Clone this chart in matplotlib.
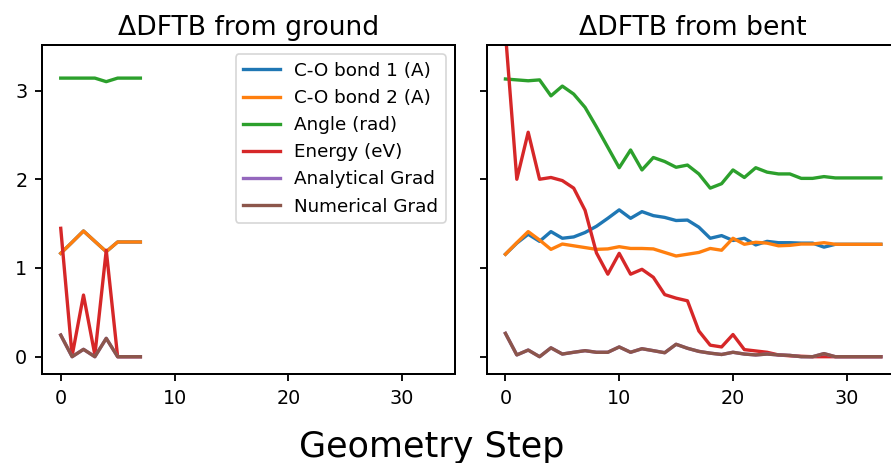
import numpy as np
import matplotlib
matplotlib.use("Agg")
import matplotlib.pyplot as plt

# Ground-state start (steps 0-7)
g_bond1 = [1.165, 1.29, 1.417, 1.30, 1.184, 1.293, 1.293, 1.293]
g_bond2 = [1.165, 1.29, 1.417, 1.30, 1.184, 1.293, 1.293, 1.293]
g_angle = [3.14, 3.14, 3.14, 3.14, 3.10, 3.14, 3.14, 3.14]
g_energy = [1.447, 0.01, 0.695, 0.02, 1.20, 0.0, 0.0, 0.0]
g_agrad = [0.244, 0.0, 0.083, 0.0, 0.207, 0.0, 0.0, 0.0]
g_ngrad = [0.244, 0.0, 0.083, 0.0, 0.207, 0.0, 0.0, 0.0]

# Bent start (steps 0-33)
b_bond1 = [1.155, 1.28, 1.38, 1.30, 1.41, 1.335, 1.35, 1.40, 1.47, 1.56,
           1.655, 1.56, 1.635, 1.59, 1.57, 1.535, 1.54, 1.46, 1.335, 1.365,
           1.31, 1.335, 1.26, 1.30, 1.285, 1.285, 1.28, 1.28, 1.235, 1.267,
           1.267, 1.267, 1.267, 1.267]
b_bond2 = [1.155, 1.285, 1.41, 1.315, 1.21, 1.27, 1.25, 1.23, 1.21, 1.215,
           1.24, 1.22, 1.22, 1.215, 1.175, 1.135, 1.155, 1.175, 1.22, 1.20,
           1.335, 1.267, 1.29, 1.28, 1.25, 1.255, 1.27, 1.27, 1.285, 1.267,
           1.267, 1.267, 1.267, 1.267]
b_angle = [3.13, 3.12, 3.11, 3.12, 2.94, 3.05, 2.96, 2.81, 2.59, 2.36,
           2.13, 2.33, 2.105, 2.245, 2.20, 2.135, 2.16, 2.06, 1.90, 1.95,
           2.105, 2.02, 2.13, 2.08, 2.06, 2.06, 2.01, 2.01, 2.03, 2.015,
           2.015, 2.015, 2.015, 2.015]
b_energy = [3.65, 2.00, 2.53, 2.00, 2.02, 1.985, 1.90, 1.65, 1.17, 0.93,
            1.165, 0.93, 0.985, 0.895, 0.70, 0.66, 0.63, 0.29, 0.13, 0.11,
            0.25, 0.08, 0.065, 0.05, 0.02, 0.01, 0.005, 0.0, 0.0, 0.0,
            0.0, 0.0, 0.0, 0.0]
b_agrad = [0.263, 0.02, 0.075, 0.0, 0.10, 0.03, 0.05, 0.068, 0.05, 0.05,
           0.11, 0.05, 0.09, 0.068, 0.045, 0.14, 0.095, 0.06, 0.04, 0.025,
           0.05, 0.03, 0.02, 0.03, 0.02, 0.015, 0.0, 0.0, 0.035, 0.0,
           0.0, 0.0, 0.0, 0.0]
b_ngrad = list(b_agrad)

labels = ["C-O bond 1 (A)", "C-O bond 2 (A)", "Angle (rad)",
          "Energy (eV)", "Analytical Grad", "Numerical Grad"]

plt.rcParams["lines.linewidth"] = 2.0
plt.rcParams["axes.linewidth"] = 1.2
plt.rcParams["xtick.major.size"] = 4.0
plt.rcParams["ytick.major.size"] = 4.0
plt.rcParams["xtick.major.width"] = 1.1
plt.rcParams["ytick.major.width"] = 1.1
plt.rcParams["xtick.major.pad"] = 4.8
plt.rcParams["ytick.major.pad"] = 4.8
plt.rcParams["xtick.labelsize"] = 11.5
plt.rcParams["ytick.labelsize"] = 11.5
plt.rcParams["legend.fontsize"] = 11

fig = plt.figure(figsize=(891 / 120, 463 / 120), dpi=120)
ax1 = fig.add_axes([0.0471, 0.1922, 0.4635, 0.710])
ax2 = fig.add_axes([0.5462, 0.1922, 0.4635, 0.710], sharex=ax1, sharey=ax1)

# Left panel
for series, lab in zip([g_bond1, g_bond2, g_angle, g_energy, g_agrad, g_ngrad], labels):
    ax1.plot(np.arange(len(series)), series, label=lab)
ax1.set_title("\u0394DFTB from ground", fontsize=16)
ax1.legend(loc="upper right")

# Right panel
for series, lab in zip([b_bond1, b_bond2, b_angle, b_energy, b_agrad, b_ngrad], labels):
    ax2.plot(np.arange(len(series)), series, label=lab)
ax2.set_title("\u0394DFTB from bent", fontsize=16)
plt.setp(ax2.get_yticklabels(), visible=False)

ax1.set_ylim(-0.195, 3.51)
ax1.set_xticks([0, 10, 20, 30])
ax1.set_yticks([0, 1, 2, 3])

fig.text(0.485, 0.0136, "Geometry Step", fontsize=21, ha="center", va="baseline")

fig.savefig("out.png", dpi=120)
